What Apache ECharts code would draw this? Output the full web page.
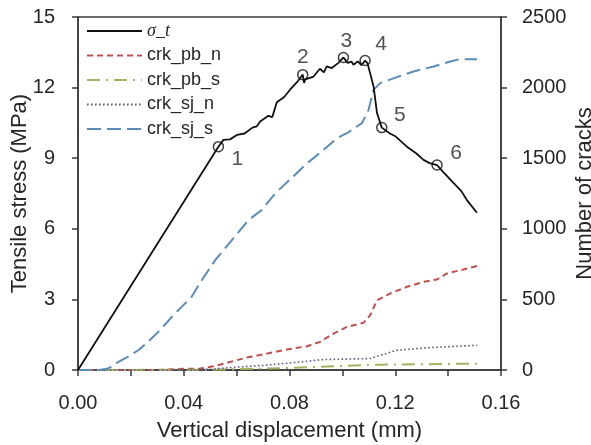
<!DOCTYPE html>
<html><head><meta charset="utf-8">
<script src="https://cdn.jsdelivr.net/npm/echarts@6/dist/echarts.min.js"></script>
<style>html,body{margin:0;padding:0;background:#fff}#c{width:591px;height:445px}</style>
</head><body><div id="c"></div>
<script>
// ---- data ----
const stressX = [0,0.0531,0.0550,0.0575,0.0601,0.0630,0.0660,0.0676,0.0689,0.0720,0.0735,0.0752,0.0780,0.0802,0.0830,0.0850,0.0855,0.0860,0.0891,0.0915,0.0930,0.0941,0.0960,0.0985,0.1004,0.1020,0.1035,0.1042,0.1058,0.1072,0.1086,0.1095,0.1118,0.1131,0.1149,0.1180,0.1202,0.1244,0.1280,0.1307,0.1330,0.1358,0.1380,0.1421,0.1450,0.1471,0.1509];
const stressY = [0,9.49,9.78,9.80,9.99,10.05,10.30,10.35,10.56,10.80,10.75,11.38,11.60,11.91,12.25,12.55,12.20,12.35,12.47,12.80,12.65,12.90,12.83,13.05,13.28,13.05,13.10,12.97,13.11,12.95,13.15,13.04,12.05,10.92,10.30,10.05,9.92,9.49,9.20,8.93,8.79,8.71,8.43,7.94,7.60,7.22,6.68];

const pbnX = [0,0.0300,0.0400,0.0462,0.0512,0.0575,0.0638,0.0701,0.0790,0.0866,0.0916,0.0966,0.1017,0.1080,0.1105,0.1131,0.1181,0.1244,0.1307,0.1358,0.1396,0.1458,0.1509];
const pbnY = [0,0,8,10,26,57,88,111,145,168,199,258,305,334,388,494,542,589,624,641,684,712,736];

const pbsX = [0,0.0500,0.0790,0.0966,0.1143,0.1509];
const pbsY = [0,2,14,26,38,45];

const sjnX = [0,0.0400,0.0500,0.0575,0.0701,0.0802,0.0929,0.1105,0.1143,0.1206,0.1332,0.1509];
const sjnY = [0,0,5,17,33,50,74,81,104,140,159,175];

const sjsX = [0,0.0080,0.0114,0.0153,0.0190,0.0228,0.0265,0.0304,0.0367,0.0430,0.0468,0.0519,0.0582,0.0645,0.0695,0.0746,0.0803,0.0866,0.0929,0.0979,0.1017,0.1074,0.1099,0.1118,0.1143,0.1206,0.1269,0.1345,0.1408,0.1440,0.1509];
const sjsY = [0,0,10,57,95,140,200,270,400,518,636,778,920,1062,1133,1251,1351,1464,1559,1641,1677,1748,1842,1984,2032,2074,2114,2150,2185,2200,2200];

const markerX = [0.0531,0.0850,0.1004,0.1086,0.1149,0.1358];
const markerY = [9.49,12.55,13.28,13.15,10.30,8.71];
const markerLabels = ['1','2','3','4','5','6'];

const seriesNames = ['σ_t','crk_pb_n','crk_pb_s','crk_sj_n','crk_sj_s'];
const xTickLabels = ['0.00','0.04','0.08','0.12','0.16'];
const leftTicks = [0,3,6,9,12,15];
const rightTicks = [0,500,1000,1500,2000,2500];

// ---- build ----
const FONT = 'Liberation Sans, Arial, sans-serif';
const TXT = '#262626';
const zip = (a,b)=>a.map((v,i)=>[v,b[i]]);
const labelOffsets = [[19,13],[0,-17],[3,-16],[16,-16],[18,-12],[19,-12]];

const chart = echarts.init(document.getElementById('c'), null, {renderer:'canvas'});
const option = {
  backgroundColor:'#ffffff',
  animation:false,
  textStyle:{fontFamily:FONT},
  grid:{left:78,right:90,top:17,bottom:75,containLabel:false,outerBoundsMode:'none',
    show:true,borderColor:'#3a3a3a',borderWidth:1.5,backgroundColor:'transparent'},
  legend:{
    left:81, top:17, orient:'vertical',
    itemWidth:55, itemHeight:14, itemGap:6.5,
    itemStyle:{opacity:0},
    data:seriesNames,
    formatter:n=> n===seriesNames[0] ? '{i|'+n+'}' : n,
    textStyle:{fontSize:18,color:TXT,fontFamily:FONT,lineHeight:18,
      rich:{i:{fontStyle:'italic',fontSize:18,fontFamily:'Liberation Serif, serif',color:TXT}}}
  },
  xAxis:{
    type:'value', min:0, max:0.16, interval:0.02,
    name:'Vertical displacement (mm)', nameLocation:'middle', nameGap:50, nameMoveOverlap:false,
    nameTextStyle:{fontSize:22,color:TXT,fontFamily:FONT},
    axisLine:{lineStyle:{color:'#3a3a3a',width:1.5}},
    axisTick:{inside:false,length:6,lineStyle:{color:'#3a3a3a',width:1.5}},
    axisLabel:{fontSize:20,color:TXT,margin:23,
      formatter:v=>{const k=Math.round(v/0.02); return k%2===0 ? xTickLabels[k/2] : '';}},
    splitLine:{show:false}
  },
  yAxis:[{
    type:'value', min:0, max:15, interval:3, position:'left',
    name:'Tensile stress (MPa)', nameLocation:'middle', nameGap:47, nameRotate:90, nameMoveOverlap:false,
    nameTextStyle:{fontSize:22,color:TXT,fontFamily:FONT},
    axisLine:{show:true,lineStyle:{color:'#3a3a3a',width:1.5}},
    axisTick:{show:true,inside:false,length:6,lineStyle:{color:'#3a3a3a',width:1.5}},
    axisLabel:{fontSize:20,color:TXT,margin:23,formatter:v=>leftTicks.includes(v)?String(v):''},
    splitLine:{show:false}
  },{
    type:'value', min:0, max:2500, interval:500, position:'right',
    name:'Number of cracks', nameLocation:'middle', nameGap:73, nameRotate:90, nameMoveOverlap:false,
    nameTextStyle:{fontSize:22,color:TXT,fontFamily:FONT},
    axisLine:{show:true,lineStyle:{color:'#3a3a3a',width:1.5}},
    axisTick:{show:true,inside:false,length:6,lineStyle:{color:'#3a3a3a',width:1.5}},
    axisLabel:{fontSize:20,color:TXT,margin:21,formatter:v=>rightTicks.includes(v)?String(v):''},
    splitLine:{show:false}
  }],
  series:[
    {name:seriesNames[1],type:'line',yAxisIndex:1,data:zip(pbnX,pbnY),showSymbol:false,symbol:'none',
      lineStyle:{color:'#c0504d',width:2,type:[6,4]},itemStyle:{color:'#c0504d'},z:2},
    {name:seriesNames[2],type:'line',yAxisIndex:1,data:zip(pbsX,pbsY),showSymbol:false,symbol:'none',
      lineStyle:{color:'#a4b35c',width:2,type:[13,6,2,6]},itemStyle:{color:'#a4b35c'},z:2},
    {name:seriesNames[3],type:'line',yAxisIndex:1,data:zip(sjnX,sjnY),showSymbol:false,symbol:'none',
      lineStyle:{color:'#5d5a7a',width:1.6,type:[1.6,2.4]},itemStyle:{color:'#5d5a7a'},z:2},
    {name:seriesNames[4],type:'line',yAxisIndex:1,data:zip(sjsX,sjsY),showSymbol:false,symbol:'none',
      lineStyle:{color:'#5b8db8',width:2,type:[14,6]},itemStyle:{color:'#5b8db8'},z:2},
    {name:seriesNames[0],type:'line',yAxisIndex:0,data:zip(stressX,stressY),showSymbol:false,symbol:'none',
      lineStyle:{color:'#111',width:1.8},itemStyle:{color:'#111'},z:3},
    {name:'markers',type:'scatter',yAxisIndex:0,symbol:'circle',symbolSize:10,z:4,
      itemStyle:{color:'rgba(255,255,255,0)',borderColor:'#111',borderWidth:1.5},
      data:markerX.map((x,i)=>({value:[x,markerY[i]],
        label:{show:true,formatter:markerLabels[i],position:'inside',offset:labelOffsets[i],
          fontSize:21,color:TXT,fontFamily:FONT}}))}
  ]
};
chart.setOption(option);
</script></body></html>
